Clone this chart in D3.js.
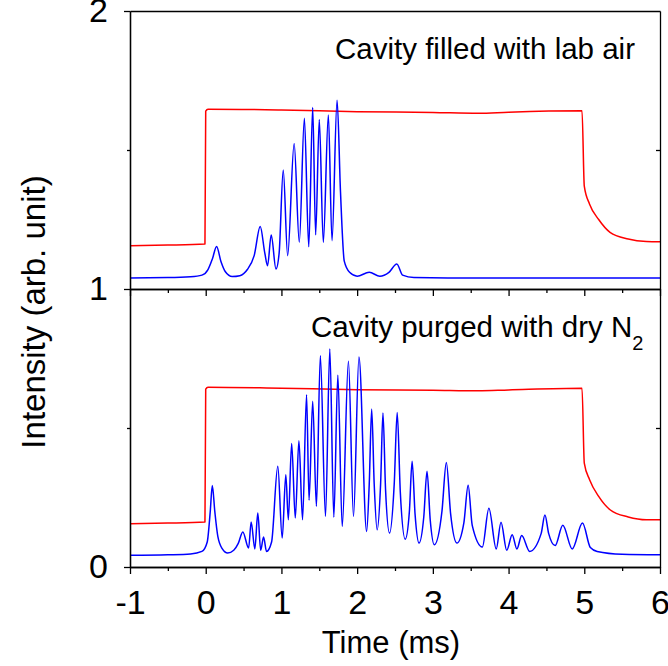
<!DOCTYPE html>
<html>
<head>
<meta charset="utf-8">
<script src="https://cdn.jsdelivr.net/npm/d3@7"></script>
<style>
  html, body { margin: 0; padding: 0; background: #fff; }
  svg { display: block; font-family: "Liberation Sans", Arial, sans-serif; }
</style>
</head>
<body>
<div id="chart"></div>
<script>
// ticks
const xTicks = [-1, 0, 1, 2, 3, 4, 5, 6];
const xMinor = [-0.5, 0.5, 1.5, 2.5, 3.5, 4.5, 5.5];
const yTicks = [0, 1, 2];
const yMinor = [0.5, 1.5];

// upper panel: cavity filled with lab air  [time ms, intensity]
const airRed = [
  [-1, 1.156], [-0.5, 1.158], [-0.01, 1.162], [0.0, 1.64], [0.03, 1.647],
  [1.0, 1.644], [2.0, 1.638], [3.0, 1.635], [3.6, 1.632], [4.0, 1.636],
  [4.97, 1.641], [5.0, 1.37], [5.07, 1.305], [5.19, 1.25], [5.34, 1.204],
  [5.58, 1.18], [5.82, 1.171], [6, 1.17]
];
const airBlue = [
  [-1, 1.040], [-0.5, 1.041], [-0.2, 1.044], [-0.05, 1.05], [0.03, 1.07],
  [0.09, 1.11], [0.144, 1.153], [0.2, 1.10], [0.26, 1.062], [0.35, 1.045],
  [0.45, 1.048], [0.55, 1.07], [0.64, 1.12], [0.72, 1.225], [0.78, 1.13],
  [0.817, 1.084], [0.865, 1.194], [0.928, 1.072], [0.97, 1.13], [1.024, 1.428],
  [1.082, 1.12], [1.168, 1.523], [1.236, 1.168], [1.303, 1.614], [1.361, 1.152],
  [1.413, 1.653], [1.452, 1.195], [1.50, 1.61], [1.553, 1.168], [1.62, 1.626],
  [1.668, 1.174], [1.735, 1.679], [1.78, 1.35], [1.83, 1.10], [1.9, 1.06],
  [2.0, 1.046], [2.16, 1.06], [2.3, 1.046], [2.42, 1.06], [2.524, 1.09],
  [2.6, 1.05], [2.75, 1.041], [3.2, 1.040], [6, 1.040]
];

// lower panel: cavity purged with dry N2
const n2Red = [
  [-1, 0.156], [-0.5, 0.158], [-0.01, 0.162], [0.0, 0.64], [0.03, 0.647],
  [1.0, 0.643], [2.0, 0.638], [3.0, 0.636], [3.6, 0.634], [4.0, 0.637],
  [4.97, 0.643], [5.0, 0.374], [5.07, 0.314], [5.19, 0.254], [5.34, 0.206],
  [5.58, 0.18], [5.82, 0.170], [6, 0.170]
];
const n2Blue = [
  [-1, 0.042], [-0.5, 0.044], [-0.2, 0.047], [-0.05, 0.056], [0.02, 0.09],
  [0.06, 0.2], [0.087, 0.293], [0.12, 0.2], [0.16, 0.11], [0.22, 0.065],
  [0.29, 0.05], [0.37, 0.06], [0.43, 0.085], [0.49, 0.126], [0.567, 0.068],
  [0.60, 0.162], [0.649, 0.065], [0.688, 0.194], [0.726, 0.06], [0.764, 0.108],
  [0.803, 0.056], [0.87, 0.09], [0.952, 0.362], [1.01, 0.104], [1.058, 0.332],
  [1.091, 0.17], [1.135, 0.444], [1.183, 0.176], [1.231, 0.454], [1.279, 0.17],
  [1.332, 0.62], [1.365, 0.24], [1.413, 0.596], [1.462, 0.218], [1.514, 0.76],
  [1.582, 0.182], [1.639, 0.784], [1.692, 0.179], [1.745, 0.69], [1.803, 0.146],
  [1.885, 0.74], [1.952, 0.182], [2.024, 0.755], [2.125, 0.128], [2.16, 0.3],
  [2.192, 0.568], [2.225, 0.3], [2.264, 0.134], [2.31, 0.3], [2.341, 0.554],
  [2.375, 0.28], [2.428, 0.122], [2.49, 0.3], [2.529, 0.556], [2.57, 0.27],
  [2.635, 0.1], [2.69, 0.2], [2.726, 0.38], [2.765, 0.19], [2.817, 0.086],
  [2.88, 0.18], [2.923, 0.344], [2.965, 0.17], [3.019, 0.08], [3.12, 0.2],
  [3.178, 0.376], [3.235, 0.19], [3.317, 0.086], [3.41, 0.16], [3.466, 0.294],
  [3.52, 0.15], [3.654, 0.072], [3.74, 0.211], [3.837, 0.065], [3.9, 0.161],
  [3.976, 0.06], [4.048, 0.116], [4.11, 0.065], [4.173, 0.113], [4.279, 0.056],
  [4.43, 0.12], [4.48, 0.187], [4.53, 0.12], [4.615, 0.077], [4.716, 0.15],
  [4.841, 0.065], [4.976, 0.158], [5.08, 0.07], [5.17, 0.056], [5.5, 0.046],
  [6, 0.044]
];

const width = 668, height = 666;
const margin = { top: 11, right: 8, bottom: 99, left: 130 };
const innerWidth = width - margin.left - margin.right;
const innerHeight = height - margin.top - margin.bottom;

const svg = d3.select("#chart").append("svg")
  .attr("width", width)
  .attr("height", height);

const g = svg.append("g")
  .attr("transform", `translate(${margin.left},${margin.top})`);

const x = d3.scaleLinear().domain([-1, 6]).range([0, innerWidth]);
const y = d3.scaleLinear().domain([0, 2]).range([innerHeight, 0]);

svg.append("defs").append("clipPath").attr("id", "plot-clip")
  .append("rect").attr("width", innerWidth).attr("height", innerHeight);

const line = d3.line()
  .x(d => x(d[0]))
  .y(d => y(d[1]))
  .curve(d3.curveMonotoneX);

const plot = g.append("g").attr("clip-path", "url(#plot-clip)");

[[airRed, "#ff0000"], [n2Red, "#ff0000"], [airBlue, "#0000ff"], [n2Blue, "#0000ff"]]
  .forEach(([data, color]) => {
    plot.append("path")
      .datum(data)
      .attr("fill", "none")
      .attr("stroke", color)
      .attr("stroke-width", 1.5)
      .attr("stroke-linejoin", "round")
      .attr("d", line);
  });

// axes
function styleAxis(sel) {
  sel.selectAll(".domain").attr("stroke", "#000").attr("stroke-width", 1.3);
  sel.selectAll(".tick line").attr("stroke", "#000").attr("stroke-width", 1.3);
}
const fmt = d => String(d);   // plain hyphen for "-1"

// bottom axis with labels
const bottom = g.append("g")
  .attr("transform", `translate(0,${innerHeight})`)
  .call(d3.axisBottom(x).tickValues(xTicks).tickSize(7).tickSizeOuter(0).tickPadding(16)
    .tickFormat(fmt))
  .call(styleAxis);
bottom.selectAll("text")
  .attr("font-size", 34)
  .attr("font-family", "Liberation Sans, Arial, sans-serif")
  .attr("fill", "#000");

g.append("g")
  .attr("transform", `translate(0,${innerHeight})`)
  .call(d3.axisBottom(x).tickValues(xMinor).tickSize(4).tickSizeOuter(0).tickFormat(""))
  .call(styleAxis);

// divider between the two panels
g.append("g")
  .attr("transform", `translate(0,${y(1)})`)
  .call(d3.axisBottom(x).tickValues(xTicks).tickSize(7).tickSizeOuter(0).tickFormat(""))
  .call(styleAxis);
g.append("g")
  .attr("transform", `translate(0,${y(1)})`)
  .call(d3.axisBottom(x).tickValues(xMinor).tickSize(4).tickSizeOuter(0).tickFormat(""))
  .call(styleAxis);

// top frame
g.append("g")
  .call(d3.axisTop(x).tickValues([]).tickSizeOuter(0))
  .call(styleAxis);

// left axis
const left = g.append("g")
  .call(d3.axisLeft(y).tickValues(yTicks).tickSize(6).tickSizeOuter(0).tickPadding(16)
    .tickFormat(fmt))
  .call(styleAxis);
left.selectAll("text")
  .attr("font-size", 34)
  .attr("font-family", "Liberation Sans, Arial, sans-serif")
  .attr("fill", "#000");

g.append("g")
  .call(d3.axisLeft(y).tickValues(yMinor).tickSize(3).tickSizeOuter(0).tickFormat(""))
  .call(styleAxis);

// right axis (ticks inward)
g.append("g")
  .attr("transform", `translate(${innerWidth},0)`)
  .call(d3.axisLeft(y).tickValues(yMinor).tickSize(4).tickSizeOuter(0).tickFormat(""))
  .call(styleAxis);

// axis titles
svg.append("text")
  .attr("x", 391)
  .attr("y", 653)
  .attr("text-anchor", "middle")
  .attr("font-size", 31)
  .text("Time (ms)");

svg.append("text")
  .attr("transform", "translate(45,312) rotate(-90)")
  .attr("text-anchor", "middle")
  .attr("font-size", 33)
  .text("Intensity (arb. unit)");

// panel notes
svg.append("text")
  .attr("x", 635)
  .attr("y", 59)
  .attr("text-anchor", "end")
  .attr("font-size", 29.5)
  .text("Cavity filled with lab air");

const note2 = svg.append("text")
  .attr("x", 311)
  .attr("y", 337)
  .attr("font-size", 29.5);
note2.append("tspan").text("Cavity purged with dry N");
note2.append("tspan").attr("font-size", 20).attr("dy", 13).text("2");
</script>
</body>
</html>
